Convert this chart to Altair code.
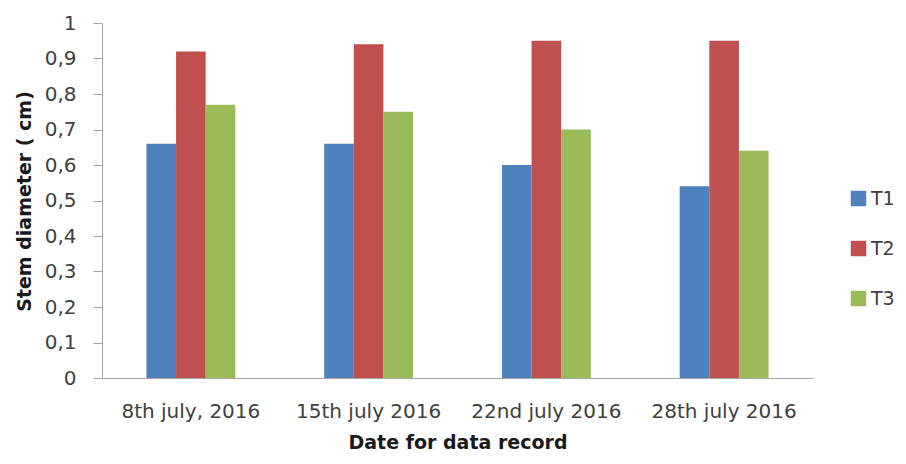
import altair as alt
import pandas as pd

dates = ["8th july, 2016", "15th july 2016", "22nd july 2016", "28th july 2016"]
series = ["T1", "T2", "T3"]
t1 = [0.66, 0.66, 0.60, 0.54]
t2 = [0.92, 0.94, 0.95, 0.95]
t3 = [0.77, 0.75, 0.70, 0.64]
colors = ["#4F81BD", "#C0504D", "#9BBB59"]
y_ticks = [0, 0.1, 0.2, 0.3, 0.4, 0.5, 0.6, 0.7, 0.8, 0.9, 1.0]

rows = []
for s, vals in zip(series, [t1, t2, t3]):
    for d, v in zip(dates, vals):
        rows.append({"date": d, "series": s, "value": v})
df = pd.DataFrame(rows)

FONT = "DejaVu Sans"

chart = alt.Chart(df).mark_bar().encode(
    x=alt.X("date:N", sort=dates,
            scale=alt.Scale(paddingInner=0.5, paddingOuter=0.25),
            axis=alt.Axis(title="Date for data record", labelAngle=0, ticks=False,
                          labelFontSize=20, labelColor="#404040", labelPadding=23,
                          titleFontSize=19, titleFontWeight="bold", titleColor="#1a1a1a",
                          titlePadding=12, domainColor="#A6A6A6")),
    xOffset=alt.XOffset("series:N", sort=series),
    y=alt.Y("value:Q", scale=alt.Scale(domain=[0, 1], nice=False),
            axis=alt.Axis(title="Stem diameter ( cm)", values=y_ticks,
                          labelExpr="replace(format(datum.value, '.1~f'), '.', ',')",
                          grid=False, tickSize=9, tickColor="#A6A6A6", domainColor="#A6A6A6",
                          labelFontSize=20, labelColor="#404040", labelPadding=17,
                          titleFontSize=19, titleFontWeight="bold", titleColor="#1a1a1a",
                          titleX=-72, titleY=178, titleBaseline="alphabetic", titleAlign="center",
                          titleAngle=-90)),
    color=alt.Color("series:N", sort=series,
                    scale=alt.Scale(domain=series, range=colors),
                    legend=alt.Legend(title=None, orient="none", legendX=747, legendY=166,
                                      symbolType="square", symbolSize=240, symbolStrokeWidth=0,
                                      labelFontSize=19, labelColor="#404040", rowPadding=30,
                                      labelOffset=3)),
).properties(
    width=711, height=355,
    autosize=alt.AutoSizeParams(type="none"),
    padding={"left": 94, "top": 15, "right": 85, "bottom": 78},
).configure(font=FONT).configure_view(stroke=None, strokeWidth=0)

chart.save("out.html", embed_options={"renderer": "svg", "actions": False})
